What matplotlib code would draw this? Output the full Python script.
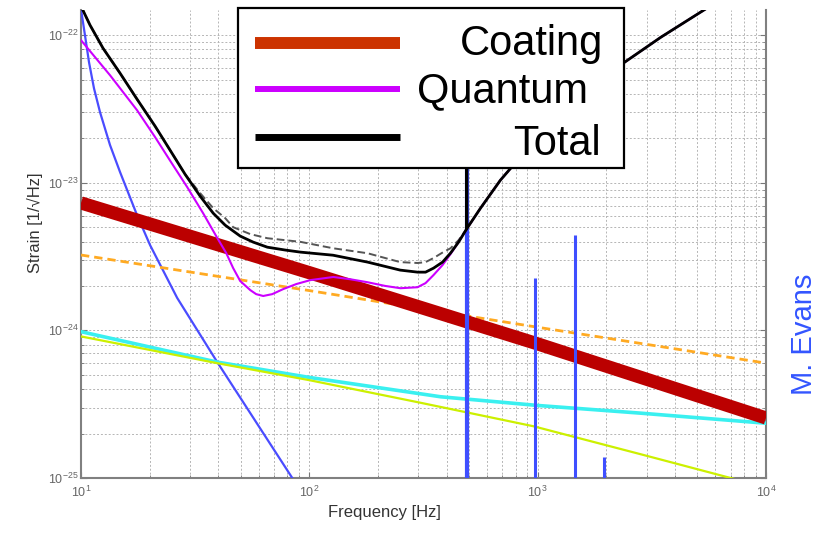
"""Noise budget (strain vs frequency) re-drawn from a MATLAB style figure."""
import matplotlib
matplotlib.use("Agg")
import matplotlib.pyplot as plt
from matplotlib.lines import Line2D
from matplotlib.patches import Rectangle
from matplotlib.ticker import NullFormatter

plt.rcParams["font.family"] = ["Liberation Sans", "DejaVu Sans"]

# ---- data (Hz, strain / sqrt(Hz)) ----
seis_f = [10.0, 10.41, 10.84, 11.4, 12.12, 13.4, 14.83, 17.6, 20.07, 26.37, 39.5, 84.2, 100.5]
seis_s = [1.5e-22, 9.97e-23, 6.56e-23, 4.36e-23, 3.0e-23, 1.8e-23, 1.18e-23, 6.03e-24, 3.78e-24,
          1.66e-24, 6.1e-25, 1.0e-25, 6.46e-26]

cyan_f = [10, 39.4, 100, 376, 1000, 2820, 10000]
cyan_s = [9.8e-25, 6.1e-25, 4.8e-25, 3.55e-25, 3.1e-25, 2.75e-25, 2.35e-25]

yel_f = [10, 39.4, 100, 305, 960, 2820, 7000, 10000]
yel_s = [9.1e-25, 6.0e-25, 4.6e-25, 3.24e-25, 2.24e-25, 1.45e-25, 1.0e-25, 8.7e-26]

orange_f = [10, 100, 1000, 10000]
orange_s = [3.24e-24, 1.86e-24, 1.05e-24, 6.0e-25]

coat_f = [10, 100, 1000, 10000]
coat_s = [7.3e-24, 2.46e-24, 8.1e-25, 2.55e-25]

violin_f = [489, 975, 1452, 1945]
violin_peak = [1e-21, 2.26e-24, 4.4e-24, 1.39e-25]

# high frequency branch shared by total / old total / quantum
hf_f = [562, 687, 932, 1262, 1708, 2385, 3464, 5350, 7773]
hf_s = [6.73e-24, 1.042e-23, 1.8e-23, 2.96e-23, 4.51e-23, 6.5e-23, 9.68e-23, 1.48e-22, 2.14e-22]

total_f = [10, 10.95, 12.49, 14.83, 17.6, 21.1, 24.57, 28.58, 33.26, 37.93, 42.8, 49.83, 56.8, 65.5,
           78.5, 91.3, 127, 180, 250, 298, 322.8, 349.9, 383.2, 415.4, 450.2, 488.0, 489, 490] + hf_f
total_s = [1.57e-22, 1.17e-22, 8.15e-23, 5.52e-23, 3.68e-23, 2.42e-23, 1.66e-23, 1.14e-23, 8.11e-24,
           6.22e-24, 5.16e-24, 4.35e-24, 3.96e-24, 3.66e-24, 3.5e-24, 3.39e-24, 3.23e-24, 2.9e-24,
           2.56e-24, 2.48e-24, 2.48e-24, 2.64e-24, 2.9e-24, 3.34e-24, 3.96e-24, 4.85e-24, 1e-21,
           4.9e-24] + hf_s

old_f = [10, 10.95, 12.49, 14.83, 17.6, 21.1, 24.57, 28.58, 33.26, 37.93, 42.8, 46.4, 55.1, 65.5, 91.3,
         127, 180, 250, 298, 322.8, 349.9, 386, 415.4, 450.2, 488.0] + hf_f
old_s = [1.57e-22, 1.17e-22, 8.15e-23, 5.52e-23, 3.68e-23, 2.42e-23, 1.66e-23, 1.14e-23, 8.5e-24,
         6.73e-24, 5.76e-24, 5.0e-24, 4.49e-24, 4.21e-24, 3.98e-24, 3.6e-24, 3.33e-24, 2.9e-24,
         2.86e-24, 2.9e-24, 3.09e-24, 3.39e-24, 3.6e-24, 4.08e-24, 4.85e-24] + hf_s

quant_f = [10, 13.4, 17.6, 21.1, 24.5, 29.2, 34.3, 39.4, 43.25, 46.4, 49.8, 55.1, 58.5, 62.8, 68.8, 76.9,
           87.7, 101, 127.4, 151, 179.6, 215, 250.6, 297.6, 322.8, 349.9, 383.2, 415.4, 450.2, 488.3] + hf_f
quant_s = [9.24e-23, 5.35e-23, 3.1e-23, 2.04e-23, 1.42e-23, 9.33e-24, 6.2e-24, 4.26e-24, 3.34e-24,
           2.64e-24, 2.16e-24, 1.875e-24, 1.76e-24, 1.71e-24, 1.76e-24, 1.905e-24, 2.06e-24, 2.19e-24,
           2.3e-24, 2.22e-24, 2.12e-24, 2.0e-24, 1.93e-24, 1.96e-24, 2.09e-24, 2.37e-24, 2.77e-24,
           3.29e-24, 3.96e-24, 4.85e-24] + hf_s

x_ticks = [1e1, 1e2, 1e3, 1e4]
y_ticks = [1e-25, 1e-24, 1e-23, 1e-22]
legend_labels = ["Coating", "Quantum", "Total"]

W, H = 829, 535
fig = plt.figure(figsize=(W / 100, H / 100), dpi=100)
ax = fig.add_axes([81 / W, 57 / H, 685 / W, 468 / H])

ax.set_xscale("log")
ax.set_yscale("log")

ax.plot(seis_f, seis_s, color="#4a4cff", lw=1.6, zorder=3)
ax.plot(cyan_f, cyan_s, color="#3af0f0", lw=2.6, zorder=3)
ax.plot(yel_f, yel_s, color="#ccf000", lw=1.6, zorder=3.1)
ax.plot(orange_f, orange_s, color="#ffaa22", lw=2.0, ls=(0, (3, 1.8)), zorder=3)
ax.plot(coat_f, coat_s, color="#bb0000", lw=9.5, solid_capstyle="butt", zorder=4)
ax.vlines(violin_f, 1e-26, violin_peak, colors="#3f4fff", linewidths=[3, 2.2, 2.2, 2.2], zorder=5)
ax.plot(old_f, old_s, color="#555555", lw=1.4, ls=(0, (4, 2)), zorder=5)
ax.plot(quant_f, quant_s, color="#cc00ff", lw=1.5, zorder=5)
ax.plot(total_f, total_s, color="black", lw=2.0, zorder=6)

ax.set_xlim(10, 1e4)
ax.set_ylim(1e-25, 1.48e-22)
ax.set_xticks(x_ticks)
ax.set_yticks(y_ticks)
ax.xaxis.set_minor_formatter(NullFormatter())
ax.yaxis.set_minor_formatter(NullFormatter())

ax.grid(True, which="both", ls=(0, (2, 2)), color="#b5b5b5", lw=0.7)
ax.tick_params(which="both", direction="in", colors="#777777", labelcolor="#666666",
               labelsize=9, right=True, top=False)
ax.tick_params(which="major", length=4)
ax.tick_params(which="minor", length=2)
ax.tick_params(axis="y", pad=2)
ax.tick_params(axis="x", pad=5)
for side, sp in ax.spines.items():
    sp.set_color("#808080")
    sp.set_linewidth(1.5)
ax.spines["top"].set_visible(False)

fig.text(35 / W, 1 - 223 / H, "Strain [1/\u221aHz]", rotation=90, ha="center", va="center",
         fontsize=12, color="#333333")
fig.text(384 / W, 1 - 513 / H, "Frequency [Hz]", ha="center", va="center",
         fontsize=12, color="#333333")
fig.text(804 / W, 1 - 334 / H, "M. Evans", rotation=90, ha="center", va="center",
         fontsize=21, color="#3355ff")

# legend box drawn by hand (labels not left aligned, long handles)
fig.add_artist(Rectangle((238 / W, 1 - 168 / H), 386 / W, 160 / H, transform=fig.transFigure,
                         facecolor="white", edgecolor="black", lw=1.6, zorder=10))
leg_colors = ["#cc3300", "#cc00ff", "black"]
leg_widths = [8.6, 4.3, 5.0]
leg_line_y = [43, 89, 137]
leg_text_x = [460, 417, 513]
leg_text_y = [55, 102, 155]
for lab, c, w, ly, tx, ty in zip(legend_labels, leg_colors, leg_widths, leg_line_y, leg_text_x, leg_text_y):
    fig.add_artist(Line2D([255 / W, 400 / W], [1 - ly / H, 1 - ly / H], transform=fig.transFigure,
                          color=c, lw=w, solid_capstyle="butt", zorder=11))
    fig.text(tx / W, 1 - ty / H, lab, ha="left", va="baseline", fontsize=30, color="black", zorder=11)

fig.savefig("out.png", dpi=100)
